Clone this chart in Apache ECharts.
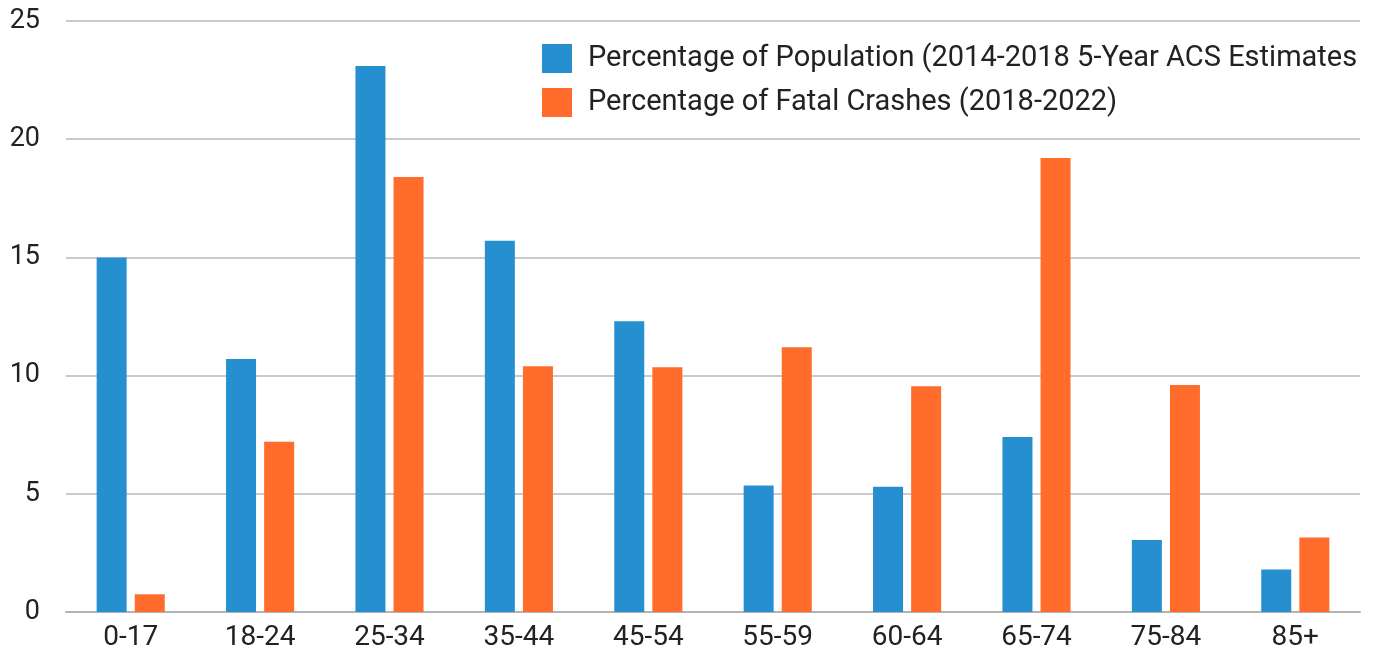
<!DOCTYPE html>
<html>
<head>
<meta charset="utf-8">
<script src="https://cdn.jsdelivr.net/npm/echarts@6/dist/echarts.min.js"></script>
<style>
  html, body { margin: 0; padding: 0; background: #fff; }
  #chart { width: 1375px; height: 658px; }
</style>
</head>
<body>
<div id="chart"></div>
<script>
var ageGroups = ["0-17", "18-24", "25-34", "35-44", "45-54", "55-59", "60-64", "65-74", "75-84", "85+"];
var populationPct = [15.0, 10.7, 23.1, 15.7, 12.3, 5.35, 5.3, 7.4, 3.05, 1.8];
var fatalCrashPct = [0.75, 7.2, 18.4, 10.4, 10.35, 11.2, 9.55, 19.2, 9.6, 3.15];
var seriesNames = ["Percentage of Population (2014-2018 5-Year ACS Estimates", "Percentage of Fatal Crashes (2018-2022)"];

var fontFamily = "Roboto, 'DejaVu Sans', sans-serif";
var myChart = echarts.init(document.getElementById("chart"));

var option = {
    animation: false,
    color: ["#258fd0", "#ff6c2c"],
    textStyle: { fontFamily: fontFamily },
    legend: {
        orient: "vertical",
        left: 537,
        top: 39,
        itemWidth: 30,
        itemHeight: 29,
        itemGap: 15,
        icon: "rect",
        textStyle: { fontSize: 29, color: "#222", fontFamily: fontFamily, padding: [0, 0, 0, 11] },
        data: seriesNames
    },
    grid: { left: 66, right: 15, top: 21, bottom: 46, containLabel: false },
    xAxis: {
        type: "category",
        data: ageGroups,
        axisTick: { show: false },
        axisLine: { lineStyle: { color: "#b3b3b3", width: 2 } },
        axisLabel: { fontSize: 28, color: "#222", margin: 12 }
    },
    yAxis: {
        type: "value",
        min: 0,
        max: 25,
        interval: 5,
        axisLine: { show: false },
        axisTick: { show: false },
        axisLabel: { fontSize: 27, color: "#222", margin: 26 },
        splitLine: { lineStyle: { color: "#b8b8b8", width: 1.5 } }
    },
    series: [
        {
            name: seriesNames[0],
            type: "bar",
            barWidth: 30,
            barGap: "27%",
            data: populationPct
        },
        {
            name: seriesNames[1],
            type: "bar",
            barWidth: 30,
            barGap: "27%",
            data: fatalCrashPct
        }
    ]
};

myChart.setOption(option);
</script>
</body>
</html>
